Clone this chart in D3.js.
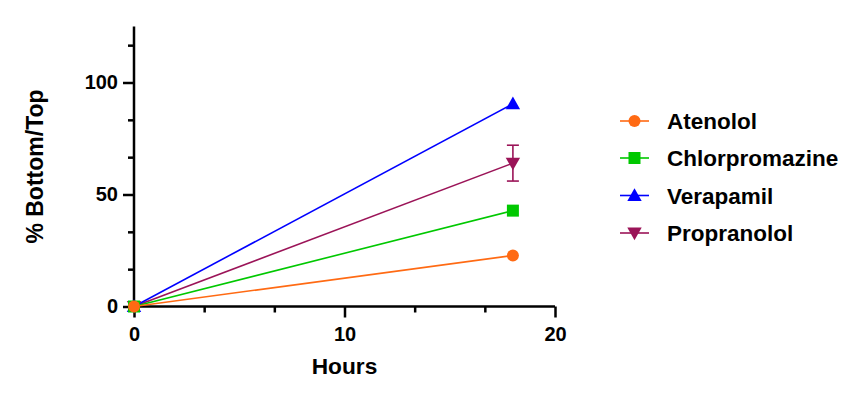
<!DOCTYPE html>
<html><head><meta charset="utf-8">
<script src="https://cdn.jsdelivr.net/npm/d3@7"></script>
<style>body{margin:0;background:#fff}svg{display:block}text{font-family:"Liberation Sans",Arial,sans-serif;font-weight:bold;fill:#000}</style>
</head><body><div id="chart"></div>
<script>
const hours = [0, 18];
const seriesNames = ["Atenolol", "Chlorpromazine", "Verapamil", "Propranolol"];
const atenolol = [0, 22.8];
const chlorpromazine = [0, 42.8];
const verapamil = [0, 90.5];
const propranolol = [0, 64];
const propranololErr = [0, 8];
const seriesColors = ["#FF6A13", "#00C800", "#0000FF", "#9B1458"];
const seriesSymbols = ["circle", "square", "triangle", "triangleDown"];
const xTicks = [0, 10, 20];
const yTicks = [0, 50, 100];

const W = 862, H = 401;
const svg = d3.select("#chart").append("svg").attr("width", W).attr("height", H);
const x = d3.scaleLinear().domain([0, 20]).range([134, 555]);
const y = d3.scaleLinear().domain([0, 125]).range([306.5, 26.5]);

const values = [atenolol, chlorpromazine, verapamil, propranolol];
const errs = [null, null, null, propranololErr];

function sym(g, type, cx, cy, color, s) {
  if (type === "circle") g.append("circle").attr("cx", cx).attr("cy", cy).attr("r", s / 2).attr("fill", color);
  else if (type === "square") g.append("rect").attr("x", cx - s / 2).attr("y", cy - s / 2).attr("width", s).attr("height", s).attr("fill", color);
  else if (type === "triangle") g.append("path").attr("d", `M${cx},${cy - s * 0.6}L${cx + s * 0.6},${cy + s * 0.45}L${cx - s * 0.6},${cy + s * 0.45}Z`).attr("fill", color);
  else g.append("path").attr("d", `M${cx},${cy + s * 0.6}L${cx + s * 0.6},${cy - s * 0.45}L${cx - s * 0.6},${cy - s * 0.45}Z`).attr("fill", color);
}

// axes
const axisG = svg.append("g");
const xMinor = [10/3, 20/3, 40/3, 50/3];
const yMinor = [50/3, 100/3, 200/3, 250/3, 350/3];
axisG.append("line").attr("x1", x(0)).attr("x2", x(20)).attr("y1", y(0)).attr("y2", y(0)).attr("stroke", "#000").attr("stroke-width", 2.5);
axisG.append("line").attr("x1", x(0)).attr("x2", x(0)).attr("y1", y(0)).attr("y2", y(125)).attr("stroke", "#000").attr("stroke-width", 2.5);
const xAxis = d3.axisBottom(x).tickValues(xTicks).tickSize(11).tickFormat(d3.format("d"));
const xa = svg.append("g").attr("transform", `translate(0,${y(0)})`).call(xAxis);
xa.select(".domain").remove();
xa.selectAll(".tick line").attr("stroke-width", 2.5);
xa.selectAll(".tick text").attr("font-size", 20).attr("font-family", "Liberation Sans").attr("font-weight", "bold").attr("dy", "0.71em").attr("y", 20);
const xm = svg.append("g").attr("transform", `translate(0,${y(0)})`).call(d3.axisBottom(x).tickValues(xMinor).tickSize(6).tickFormat(""));
xm.select(".domain").remove(); xm.selectAll(".tick line").attr("stroke-width", 2.5);
const yAxis = d3.axisLeft(y).tickValues(yTicks).tickSize(11).tickFormat(d3.format("d"));
const ya = svg.append("g").attr("transform", `translate(${x(0)},0)`).call(yAxis);
ya.select(".domain").remove();
ya.selectAll(".tick line").attr("stroke-width", 2.5);
ya.selectAll(".tick text").attr("font-size", 20).attr("font-family", "Liberation Sans").attr("font-weight", "bold").attr("x", -16);
const ym = svg.append("g").attr("transform", `translate(${x(0)},0)`).call(d3.axisLeft(y).tickValues(yMinor).tickSize(6).tickFormat(""));
ym.select(".domain").remove(); ym.selectAll(".tick line").attr("stroke-width", 2.5);

svg.append("text").attr("x", x(10)).attr("y", 374).attr("text-anchor", "middle").attr("font-size", 22.7).text("Hours");
svg.append("text").attr("transform", `translate(43,${(88 + 245) / 2}) rotate(-90)`).attr("text-anchor", "middle").attr("font-size", 23).text("% Bottom/Top");

// data
const line = d3.line().x((d, i) => x(hours[i])).y(d => y(d));
const order = [3, 2, 1, 0];
const dataG = svg.append("g");
order.forEach(k => {
  dataG.append("path").attr("d", line(values[k])).attr("fill", "none").attr("stroke", seriesColors[k]).attr("stroke-width", 1.6);
});
order.forEach(k => {
  values[k].forEach((v, i) => {
    if (errs[k] && errs[k][i] > 0) {
      const e = errs[k][i], cx = x(hours[i]);
      dataG.append("line").attr("x1", cx).attr("x2", cx).attr("y1", y(v - e)).attr("y2", y(v + e)).attr("stroke", seriesColors[k]).attr("stroke-width", 1.6);
      [v - e, v + e].forEach(b => dataG.append("line").attr("x1", cx - 6).attr("x2", cx + 6).attr("y1", y(b)).attr("y2", y(b)).attr("stroke", seriesColors[k]).attr("stroke-width", 1.6));
    }
    sym(dataG, seriesSymbols[k], x(hours[i]), y(v), seriesColors[k], 12);
  });
});

// legend
const legRows = [121, 158, 195.5, 233];
seriesNames.forEach((n, k) => {
  const g = svg.append("g");
  g.append("line").attr("x1", 620).attr("x2", 649).attr("y1", legRows[k]).attr("y2", legRows[k]).attr("stroke", seriesColors[k]).attr("stroke-width", 1.6);
  sym(g, seriesSymbols[k], 634.5, legRows[k], seriesColors[k], 12);
  g.append("text").attr("x", 667).attr("y", legRows[k]).attr("dy", "0.36em").attr("font-size", 22.5).text(n);
});
</script></body></html>
